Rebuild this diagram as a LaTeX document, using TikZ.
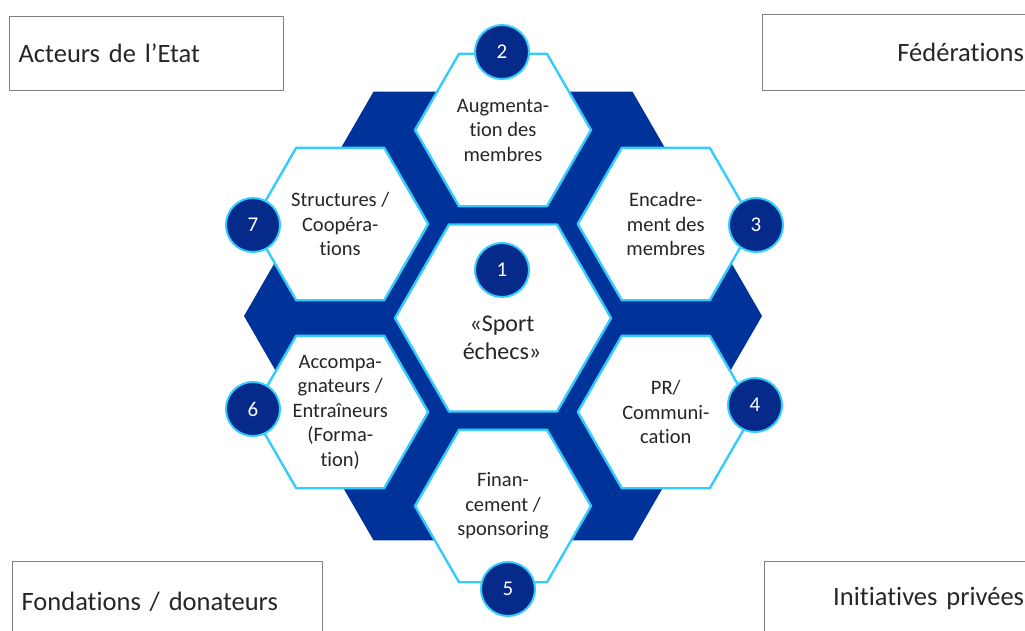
\documentclass[tikz,border=0pt]{standalone}
\usepackage{fontspec}
\setmainfont{Carlito}[Ligatures=NoCommon]
\usetikzlibrary{shapes.geometric}
\definecolor{navy}{RGB}{0,51,153}
\definecolor{navydark}{RGB}{6,42,138}
\definecolor{cyanline}{RGB}{51,204,255}
\definecolor{boxline}{RGB}{128,128,128}
\definecolor{txtgray}{RGB}{38,38,38}
\tikzset{
  hexa/.style={regular polygon, regular polygon sides=6, inner sep=0pt, fill=white, draw=cyanline, line width=2.4pt},
  numdisc/.style={circle, minimum size=54, inner sep=0pt, fill=navydark, draw=cyanline, line width=2pt, text=white, font=\fontsize{21}{21}\selectfont},
  hextext/.style={align=center, text=txtgray, font=\fontsize{20.5}{24.5}\selectfont},
  boxe/.style={draw=boxline, line width=1.3pt, inner xsep=9pt, anchor=north west, text=txtgray, font=\fontsize{26.5}{30}\selectfont}
}
\begin{document}
\begin{tikzpicture}[x=1pt, y=-1pt, line join=round]
\useasboundingbox (0,0) rectangle (1025,630);
\clip (0,0) rectangle (1025,630);
\node[hexa, fill=navy, draw=none, minimum size=518] (fond) at (503,316) {};
\foreach \n/\x/\y/\txt in {2/503/130/{Augmenta-\\tion des\\membres},
    3/665.8/224/{Encadre-\\ment des\\membres},
    4/665.8/412/{PR/\\Communi-\\cation},
    5/503/506/{Finan-\\cement /\\sponsoring},
    6/340.2/412/{Accompa-\\gnateurs /\\Entraîneurs\\(Forma-\\tion)},
    7/340.2/224/{Structures /\\Coopéra-\\tions}}{
  \node[hexa, minimum size=176] (h\n) at (\x,\y) {};
  \node[hextext] (t\n) at (h\n) {\txt};
}
\node[hexa, minimum size=216] (h1) at (503,318) {};
\node[hextext, font=\fontsize{24}{28}\selectfont] (t1) at (502,338) {«Sport\\échecs»};
\foreach \n/\x/\y in {1/502/270, 2/502/52, 3/756/225, 4/755/405, 5/508/589, 6/253/409, 7/253/225}
  \node[numdisc] (n\n) at (\x,\y) {\n};
\node[boxe, text width=256, align=left, minimum height=74] (etat) at (9,16) {Acteurs de l’Etat};
\node[boxe, text width=378, align=center, minimum height=76] (fede) at (762,14) {Fédérations};
\node[boxe, text width=292, align=left, minimum height=80] (dons) at (12,561) {Fondations / donateurs};
\node[boxe, text width=310, align=center, minimum height=74] (priv) at (764,561) {Initiatives privées};
\end{tikzpicture}
\end{document}
